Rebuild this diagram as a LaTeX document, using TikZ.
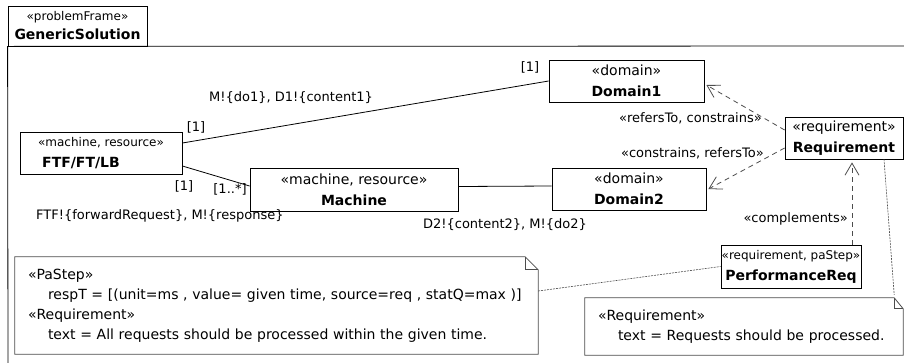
\documentclass[tikz,border=0pt]{standalone}
\usepackage{fontspec}
\setmainfont{DejaVu Sans}
\usetikzlibrary{positioning}
\usetikzlibrary{arrows.meta}
\definecolor{linegray}{rgb}{0.3,0.3,0.3}

\newcommand{\stereo}[1]{{\fontsize{14}{16}\selectfont «#1»}}
\newcommand{\smallstereo}[1]{{\fontsize{12}{14}\selectfont «#1»}}
\newcommand{\ename}[1]{{\fontsize{14}{16}\selectfont\bfseries #1}}

\begin{document}
\begin{tikzpicture}[x=1pt,y=-1pt,
  elem/.style={draw, line width=.8pt, inner sep=0pt, align=center, font=\fontsize{13}{21}\selectfont},
  lbl/.style={inner sep=0pt, font=\fontsize{13}{15}\selectfont},
  notebox/.style={inner xsep=13pt, inner ysep=0pt, align=left, font=\fontsize{14}{20}\selectfont},
  noteline/.style={line width=.8pt, color=linegray},
  assoc/.style={line width=.8pt},
  dep/.style={line width=.8pt, dash pattern=on 5pt off 4pt, color=linegray, -{Straight Barb[length=12pt,width=14pt]}},
  anchorline/.style={line width=.6pt, dash pattern=on 2pt off 1pt, color=linegray}]
\useasboundingbox (0,0) rectangle (904,362);

% frame
\node(frame)[draw, line width=.8pt, minimum width=139pt, minimum height=40pt, inner sep=0pt, align=center, font=\fontsize{12}{19}\selectfont] at (77.5,26) {\smallstereo{problemFrame}\\\ename{GenericSolution}};
\draw[line width=.8pt] (8,370) -- (frame.south west) -- (910,46);

% elements
\node(ftf)[elem, minimum width=162pt, minimum height=42pt] at (101,153) {\smallstereo{machine, resource}\\\ename{FTF/FT/LB}\hspace*{40pt}};
\node(mach)[elem, minimum width=208pt, minimum height=43pt] at (354,189.5) {\stereo{machine, resource}\\\ename{Machine}};
\node(dom1)[elem, minimum width=155pt, minimum height=42pt] at (626.5,81) {\stereo{domain}\\\ename{Domain1}};
\node(dom2)[elem, minimum width=154pt, minimum height=42pt] at (629,189) {\stereo{domain}\\\ename{Domain2}};
\node(req)[elem, minimum width=118pt, minimum height=42pt] at (844,138) {\stereo{requirement}\\\ename{Requirement}};
\node(perf)[elem, minimum width=140pt, minimum height=43pt] at (791,266.5) {\smallstereo{requirement, paStep}\\\ename{PerformanceReq}};

% notes
\node(n1)[notebox, text width=497pt, minimum height=97pt] at (276.5,305.5) {«PaStep»\\\hspace*{20pt}respT = [(unit=ms , value= given time, source=req , statQ=max )]\\«Requirement»\\\hspace*{20pt}text = All requests should be processed within the given time.};
\draw[noteline] (n1.north west) -- ([xshift=-13pt]n1.north east) -- ([yshift=-13pt]n1.north east) -- (n1.south east) -- (n1.south west) -- cycle;
\draw[noteline] ([xshift=-13pt]n1.north east) -- ([xshift=-13pt,yshift=-13pt]n1.north east) -- ([yshift=-13pt]n1.north east);

\node(n2)[notebox, text width=292pt, minimum height=57pt] at (744,326.5) {«Requirement»\\\hspace*{20pt}text = Requests should be processed.};
\draw[noteline] (n2.north west) -- ([xshift=-9pt]n2.north east) -- ([yshift=-11pt]n2.north east) -- (n2.south east) -- (n2.south west) -- cycle;
\draw[noteline] ([xshift=-9pt]n2.north east) -- ([xshift=-9pt,yshift=-11pt]n2.north east) -- ([yshift=-11pt]n2.north east);

% associations
\draw[assoc] ([yshift=10pt]ftf.east) -- (dom1.west);
\draw[assoc] ([yshift=-13pt]ftf.east) -- ([yshift=3.5pt]mach.west);
\draw[assoc] ([yshift=3pt]mach.east) -- ([yshift=3pt]dom2.west);

\node(l1)[lbl] at (196,127) {[1]};
\node(l2)[lbl] at (530,67) {[1]};
\node(l3)[lbl] at (291,98) {M!\{do1\}, D1!\{content1\}};
\node(l4)[lbl] at (184,186) {[1]};
\node(l5)[lbl] at (230,189) {[1..*]};
\node(l6)[lbl, anchor=west] at (36,216) {FTF!\{forwardRequest\}, M!\{response\}};
\node(l7)[lbl] at (505,225) {D2!\{content2\}, M!\{do2\}};

% dependencies
\draw[dep] ([yshift=8pt]req.west) -- ([xshift=2pt,yshift=-4pt]dom1.east);
\draw[dep] ([yshift=-10pt]req.west) -- ([xshift=2pt]dom2.east);
\coordinate(cmpl) at ([xshift=61pt]perf.north);
\draw[dep] (cmpl) -- ([yshift=-3pt]cmpl |- req.south);

\node(l8)[lbl, anchor=east] at (762,118) {«refersTo, constrains»};
\node(l9)[lbl, anchor=east] at (764,153) {«constrains, refersTo»};
\node(l10)[lbl, anchor=east] at (848,219) {«complements»};

% note anchors
\draw[anchorline] ([yshift=14.5pt]n1.east) -- (perf.west);
\draw[anchorline] ([xshift=40pt]req.south) -- ([xshift=-9pt,yshift=3pt]n2.north east);
\end{tikzpicture}
\end{document}
